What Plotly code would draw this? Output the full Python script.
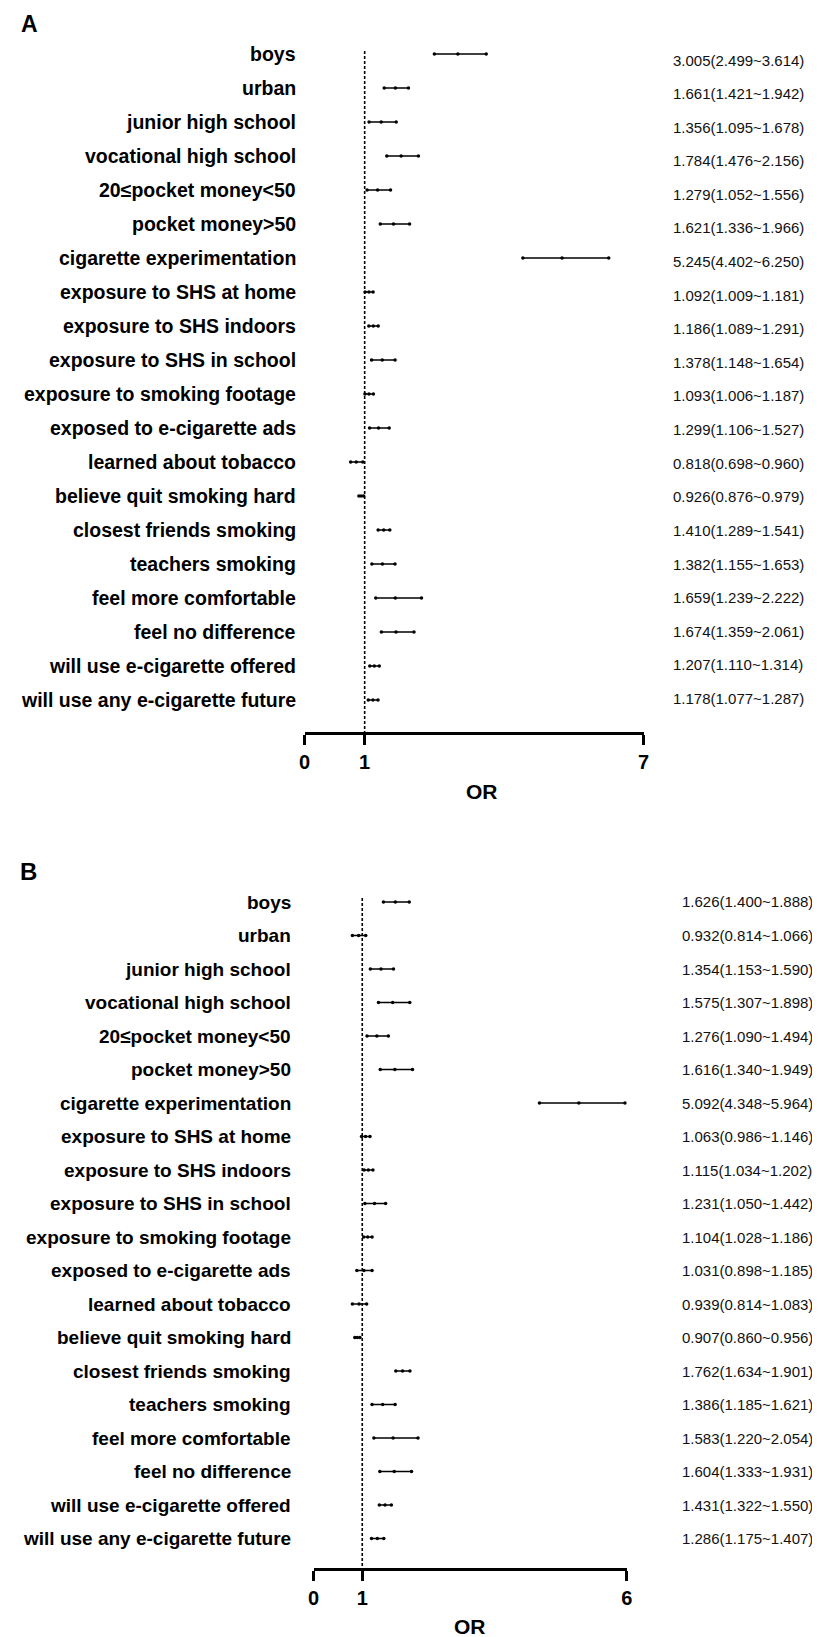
import plotly.graph_objects as go

# Forest plot of odds ratios, two panels (A and B)

W, H = 820, 1637

factors = [
    "boys", "urban", "junior high school", "vocational high school",
    "20≤pocket money<50", "pocket money>50", "cigarette experimentation",
    "exposure to SHS at home", "exposure to SHS indoors", "exposure to SHS in school",
    "exposure to smoking footage", "exposed to e-cigarette ads", "learned about tobacco",
    "believe quit smoking hard", "closest friends smoking", "teachers smoking",
    "feel more comfortable", "feel no difference", "will use e-cigarette offered",
    "will use any e-cigarette future",
]

# panel A
or_a = [3.005, 1.661, 1.356, 1.784, 1.279, 1.621, 5.245, 1.092, 1.186, 1.378,
        1.093, 1.299, 0.818, 0.926, 1.410, 1.382, 1.659, 1.674, 1.207, 1.178]
lo_a = [2.499, 1.421, 1.095, 1.476, 1.052, 1.336, 4.402, 1.009, 1.089, 1.148,
        1.006, 1.106, 0.698, 0.876, 1.289, 1.155, 1.239, 1.359, 1.110, 1.077]
hi_a = [3.614, 1.942, 1.678, 2.156, 1.556, 1.966, 6.250, 1.181, 1.291, 1.654,
        1.187, 1.527, 0.960, 0.979, 1.541, 1.653, 2.222, 2.061, 1.314, 1.287]

# panel B
or_b = [1.626, 0.932, 1.354, 1.575, 1.276, 1.616, 5.092, 1.063, 1.115, 1.231,
        1.104, 1.031, 0.939, 0.907, 1.762, 1.386, 1.583, 1.604, 1.431, 1.286]
lo_b = [1.400, 0.814, 1.153, 1.307, 1.090, 1.340, 4.348, 0.986, 1.034, 1.050,
        1.028, 0.898, 0.814, 0.860, 1.634, 1.185, 1.220, 1.333, 1.322, 1.175]
hi_b = [1.888, 1.066, 1.590, 1.898, 1.494, 1.949, 5.964, 1.146, 1.202, 1.442,
        1.186, 1.185, 1.083, 0.956, 1.901, 1.621, 2.054, 1.931, 1.550, 1.407]

ticks_a = ["0", "1", "7"]
ticks_b = ["0", "1", "6"]

FONT = "Arial, Liberation Sans, sans-serif"


def px_x(p):
    return p / W


def px_y(p):
    return 1 - p / H


def add_panel(fig, k, odds, low, high, tick_text, cfg):
    xa = "x" if k == 1 else f"x{k}"
    ya = "y" if k == 1 else f"y{k}"

    def idx(p):
        return (p - cfg["row0"]) / cfg["step"]

    xs, ys = [], []
    for i in range(len(odds)):
        xs += [low[i], odds[i], high[i], None]
        ys += [i, i, i, None]
    fig.add_trace(go.Scatter(x=xs, y=ys, mode="lines+markers", xaxis=xa, yaxis=ya,
                             line=dict(color="black", width=1.5),
                             marker=dict(color="black", size=3.5, symbol="circle"),
                             hoverinfo="skip"))

    axis_name = "xaxis" if k == 1 else f"xaxis{k}"
    yaxis_name = "yaxis" if k == 1 else f"yaxis{k}"
    fig.update_layout({
        axis_name: dict(domain=[px_x(cfg["x0"]), px_x(cfg["x1"])], range=cfg["xrange"],
                        anchor=ya, showline=True, linewidth=3, linecolor="black",
                        ticks="outside", ticklen=10, tickwidth=3, tickcolor="black",
                        tickvals=cfg["tickvals"], ticktext=tick_text,
                        tickfont=dict(family=FONT, size=20, color="black", weight="bold"),
                        showgrid=False, zeroline=False),
        yaxis_name: dict(domain=[px_y(cfg["axis_y"]), px_y(cfg["top_y"])],
                         range=[idx(cfg["axis_y"]), idx(cfg["top_y"])],
                         anchor=xa, visible=False, showgrid=False, zeroline=False),
    })

    # dotted reference line at OR = 1
    fig.add_shape(type="line", xref=xa, yref=ya, x0=1, x1=1,
                  y0=idx(cfg["dash_top"]), y1=idx(cfg["axis_y"]),
                  line=dict(color="black", width=1.6, dash="3px,2px"), layer="below")

    for i, name in enumerate(factors):
        fig.add_annotation(text=name, xref="paper", yref=ya, x=px_x(cfg["label_right"]), y=i,
                           xanchor="right", yanchor="middle", showarrow=False,
                           font=dict(family=FONT, size=cfg["label_size"], color="black", weight="bold"))
        ty = cfg["text_y0"] + cfg["text_step"] * i
        fig.add_annotation(text=f"{odds[i]:.3f}({low[i]:.3f}~{high[i]:.3f})",
                           xref="paper", yref="paper", x=px_x(cfg["text_left"]), y=px_y(ty),
                           xanchor="left", yanchor="middle", showarrow=False,
                           font=dict(family=FONT, size=15, color="#111111"))

    fig.add_annotation(text="OR", xref="paper", yref="paper",
                       x=px_x(cfg["or_pos"][0]), y=px_y(cfg["or_pos"][1]),
                       xanchor="center", yanchor="middle", showarrow=False,
                       font=dict(family=FONT, size=21, color="black", weight="bold"))
    fig.add_annotation(text="<b>" + cfg["letter"] + "</b>", xref="paper", yref="paper",
                       x=px_x(cfg["letter_pos"][0]), y=px_y(cfg["letter_pos"][1]),
                       xanchor="center", yanchor="middle", showarrow=False,
                       font=dict(family=FONT, size=cfg["letter_size"], color="black"))


fig = go.Figure()

add_panel(fig, 1, or_a, lo_a, hi_a, ticks_a, dict(
    x0=295, x1=639, xrange=[-0.29, 7], tickvals=[-0.29, 1, 7],
    row0=46, step=34, axis_y=724, top_y=30, dash_top=43,
    label_right=288, label_size=19.5, text_left=667, text_y0=52, text_step=33.6,
    or_pos=(475, 783), letter="A", letter_pos=(16, 16), letter_size=23,
))

add_panel(fig, 2, or_b, lo_b, hi_b, ticks_b, dict(
    x0=304, x1=622, xrange=[0.08, 6], tickvals=[0.08, 1, 6],
    row0=894, step=33.5, axis_y=1560, top_y=870, dash_top=890,
    label_right=283, label_size=19, text_left=676, text_y0=894, text_step=33.5,
    or_pos=(463, 1618), letter="B", letter_pos=(15, 863), letter_size=24,
))

fig.update_layout(width=W, height=H, margin=dict(l=0, r=0, t=0, b=0),
                  paper_bgcolor="white", plot_bgcolor="white", showlegend=False)

fig.write_html("out.html")
